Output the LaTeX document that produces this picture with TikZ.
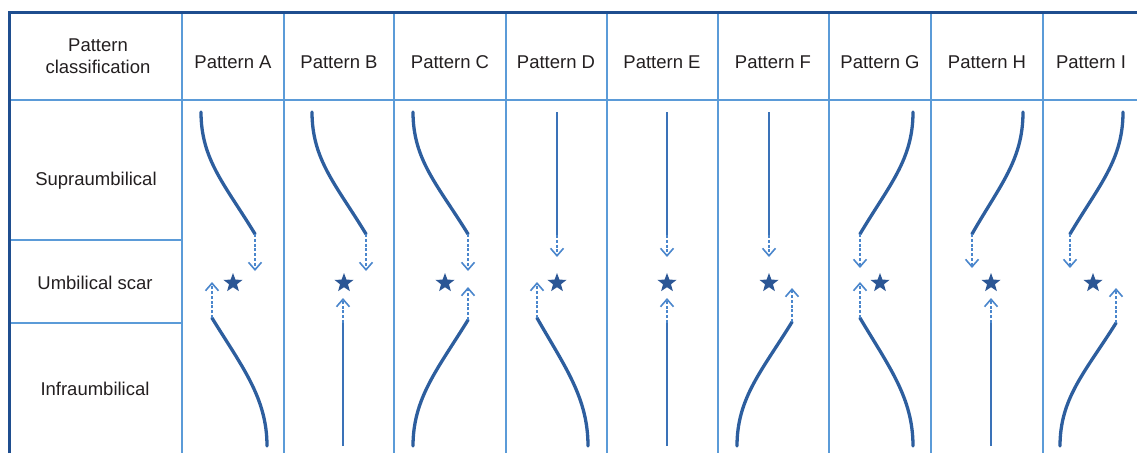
\documentclass[tikz,border=0pt]{standalone}
\usepackage{fontspec}
\setmainfont{Liberation Sans}
\usetikzlibrary{shapes.geometric,arrows.meta}
\definecolor{frameblue}{HTML}{1F4E8F}
\definecolor{gridblue}{HTML}{5B9BD8}
\definecolor{curveblue}{HTML}{2D5E9E}
\definecolor{lineblue}{HTML}{3A72B8}
\definecolor{dashblue}{HTML}{4A86CC}
\definecolor{starblue}{HTML}{2B5695}
\definecolor{txt}{HTML}{231F20}
\tikzset{
  frameline/.style={draw=frameblue,line width=3pt},
  gridline/.style={draw=gridblue,line width=1.6pt},
  curve/.style={draw=curveblue,line width=3.3pt,line cap=round},
  sline/.style={draw=lineblue,line width=2.7pt},
  darrow/.style={draw=dashblue,line width=1.7pt,dash pattern=on 3pt off 1.8pt,
    -{Straight Barb[length=7.5pt,width=13pt,line width=1.6pt]}},
  starnode/.style={star,star points=5,star point ratio=2.4,fill=starblue,
    minimum size=20pt,inner sep=0pt},
  lbl/.style={text=txt,font=\fontsize{18.5}{22}\selectfont,align=center,inner sep=0pt}
}
\newcommand\TopCurve[3]{%
  \coordinate (#1ts) at (#2,112);
  \coordinate (#1te) at (#3,234);
  \draw[curve] (#1ts) .. controls ({#2},160) and ({#2+0.45*(#3-#2)},185) .. (#1te);}
\newcommand\BotCurve[4]{%
  \coordinate (#1bs) at (#2,#4);
  \coordinate (#1be) at (#3,446);
  \draw[curve] (#1bs) .. controls ({#2+0.55*(#3-#2)},{#4+49}) and ({#3},398) .. (#1be);}
\begin{document}
\begin{tikzpicture}[x=1pt,y=-1pt]
\useasboundingbox (0,0) rectangle (1137,453);
% grid
\coordinate (hl) at (9,100); \coordinate (hr) at (1137,100);
\draw[gridline] (hl) -- (hr);
\coordinate (r1l) at (9,240); \coordinate (r1r) at (182,240);
\coordinate (r2l) at (9,323); \coordinate (r2r) at (182,323);
\draw[gridline] (r1l) -- (r1r);
\draw[gridline] (r2l) -- (r2r);
\foreach \x [count=\i] in {182,284,394,506,607,718,829,931,1043}{
  \coordinate (v\i t) at (\x,12); \coordinate (v\i b) at (\x,453);
  \draw[gridline] (v\i t) -- (v\i b);
}
% frame
\coordinate (fbl) at (9,453); \coordinate (ftl) at (9,12); \coordinate (ftr) at (1137,12);
\draw[frameline] (fbl) -- (ftl) -- (ftr);
% labels
\node[lbl] (hdr) at (98,56) {Pattern\\classification};
\node[lbl] (sup) at (96,181) {Supraumbilical};
\node[lbl] (umb) at (95,283) {Umbilical scar};
\node[lbl] (inf) at (95,389) {Infraumbilical};
\foreach \n/\x in {A/233,B/339,C/450,D/556,E/662,F/773,G/880,H/987,I/1091}{
  \node[lbl] (h\n) at (\x,62) {Pattern \n};
}
% ---- Pattern A
\TopCurve{A}{201}{255}
\coordinate (Atip) at (255,271);
\draw[darrow] (Ate) -- (Atip);
\node[starnode] (Astar) at (233,283) {};
\BotCurve{A}{212}{267}{318}
\coordinate (Aup) at (212,282);
\draw[darrow] (Abs) -- (Aup);
% ---- Pattern B
\TopCurve{B}{312}{366}
\coordinate (Btip) at (366,271);
\draw[darrow] (Bte) -- (Btip);
\node[starnode] (Bstar) at (344,283) {};
\coordinate (Bb0) at (343,446); \coordinate (Bb1) at (343,323); \coordinate (Bup) at (343,298);
\draw[sline] (Bb0) -- (Bb1);
\draw[darrow] (Bb1) -- (Bup);
% ---- Pattern C
\TopCurve{C}{413}{468}
\coordinate (Ctip) at (468,271);
\draw[darrow] (Cte) -- (Ctip);
\node[starnode] (Cstar) at (445,283) {};
\BotCurve{C}{468}{413}{320}
\coordinate (Cup) at (468,287);
\draw[darrow] (Cbs) -- (Cup);
% ---- Pattern D
\coordinate (Dt0) at (557,112); \coordinate (Dt1) at (557,235); \coordinate (Dtip) at (557,257);
\draw[sline] (Dt0) -- (Dt1);
\draw[darrow] (Dt1) -- (Dtip);
\node[starnode] (Dstar) at (557,283) {};
\BotCurve{D}{537}{588}{318}
\coordinate (Dup) at (537,282);
\draw[darrow] (Dbs) -- (Dup);
% ---- Pattern E
\coordinate (Et0) at (667,112); \coordinate (Et1) at (667,235); \coordinate (Etip) at (667,257);
\draw[sline] (Et0) -- (Et1);
\draw[darrow] (Et1) -- (Etip);
\node[starnode] (Estar) at (667,283) {};
\coordinate (Eb0) at (667,446); \coordinate (Eb1) at (667,323); \coordinate (Eup) at (667,298);
\draw[sline] (Eb0) -- (Eb1);
\draw[darrow] (Eb1) -- (Eup);
% ---- Pattern F
\coordinate (Ft0) at (769,112); \coordinate (Ft1) at (769,235); \coordinate (Ftip) at (769,257);
\draw[sline] (Ft0) -- (Ft1);
\draw[darrow] (Ft1) -- (Ftip);
\node[starnode] (Fstar) at (769,283) {};
\BotCurve{F}{792}{737}{322}
\coordinate (Fup) at (792,288);
\draw[darrow] (Fbs) -- (Fup);
% ---- Pattern G
\TopCurve{G}{913}{860}
\coordinate (Gtip) at (860,268);
\draw[darrow] (Gte) -- (Gtip);
\node[starnode] (Gstar) at (880,283) {};
\BotCurve{G}{860}{913}{318}
\coordinate (Gup) at (860,282);
\draw[darrow] (Gbs) -- (Gup);
% ---- Pattern H
\TopCurve{H}{1023}{972}
\coordinate (Htip) at (972,268);
\draw[darrow] (Hte) -- (Htip);
\node[starnode] (Hstar) at (991,283) {};
\coordinate (Hb0) at (991,446); \coordinate (Hb1) at (991,323); \coordinate (Hup) at (991,298);
\draw[sline] (Hb0) -- (Hb1);
\draw[darrow] (Hb1) -- (Hup);
% ---- Pattern I
\TopCurve{I}{1123}{1070}
\coordinate (Itip) at (1070,268);
\draw[darrow] (Ite) -- (Itip);
\node[starnode] (Istar) at (1093,283) {};
\BotCurve{I}{1116}{1060}{323}
\coordinate (Iup) at (1116,288);
\draw[darrow] (Ibs) -- (Iup);
\end{tikzpicture}
\end{document}
